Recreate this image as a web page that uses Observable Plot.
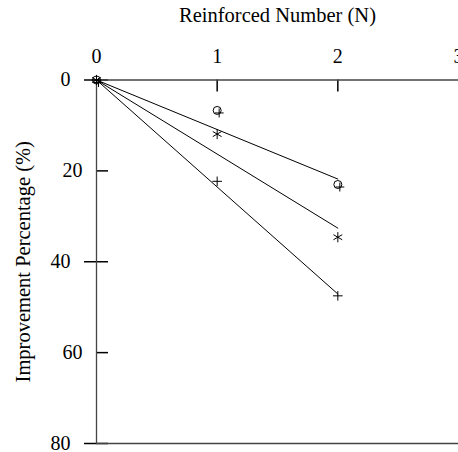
<!DOCTYPE html>
<html>
<head>
<meta charset="utf-8">
<script src="https://cdn.jsdelivr.net/npm/d3@7"></script>
<script src="https://cdn.jsdelivr.net/npm/@observablehq/plot@0.6"></script>
<style>
  html, body { margin: 0; padding: 0; background: #fff; }
  #chart svg { display: block; font-family: 'Liberation Serif', 'Times New Roman', serif; background: #fff; }
</style>
</head>
<body>
<div id="chart"></div>
<script>
// Reinforced number (x)
const reinforced = [0, 1, 2];
// Measured improvement percentages (markers)
const seriesCircle = [0, 6.7, 23.0];
const seriesAsterisk = [0, 11.9, 34.6];
const seriesPlus = [0, 22.3, 47.5];
// Fitted lines (endpoints at N = 0 and N = 2)
const fitN = [0, 2];
const fitCircle = [0, 21.8];
const fitAsterisk = [0, 32.6];
const fitPlus = [0, 47.1];
// Tick labels
const xTicks = [0, 1, 2, 3];
const xTicksInner = [1, 2];
const yTicksMajor = [0, 40, 80];
const yTicksMinor = [20, 60];
const yTicksAll = [0, 20, 40, 60, 80];

const pts = (ys) => reinforced.map((n, i) => ({n, v: ys[i]}));
const fit = (ys) => fitN.map((n, i) => ({n, v: ys[i]}));

const axisColor = "#444";
const W = 458, H = 452, mT = 79.5, mB = 9, mL = 96, mR = 0;
const frameW = W - mL - mR, frameH = H - mT - mB, tickLen = 12;

let chart;
try {
chart = Plot.plot({
  width: W,
  height: H,
  marginTop: mT,
  marginBottom: mB,
  marginLeft: mL,
  marginRight: mR,
  x: {domain: [0, 3], axis: null},
  y: {domain: [0, 80], reverse: true, axis: null},
  marks: [
    // y ticks: inward
    Plot.tickY(yTicksAll, {y: d => d, insetRight: frameW - tickLen, stroke: "black", strokeWidth: 1.5}),
    // y ticks: outward (major)
    Plot.tickY(yTicksMajor, {y: d => d, dx: -tickLen, insetRight: frameW - tickLen, stroke: "black", strokeWidth: 1.5}),
    // x ticks inward
    Plot.tickX(xTicksInner, {x: d => d, insetBottom: frameH - tickLen, stroke: "black", strokeWidth: 1.5}),
    // axis lines
    Plot.ruleY([0, 80], {stroke: axisColor, strokeWidth: 1.3}),
    Plot.ruleX([0], {stroke: axisColor, strokeWidth: 1.3}),
    // y labels
    Plot.text(yTicksMinor, {y: d => d, frameAnchor: "left", dx: -14, textAnchor: "end", lineAnchor: "middle", text: d => String(d), fontSize: 20, fill: "#000"}),
    Plot.text(yTicksMajor, {y: d => d, frameAnchor: "left", dx: -26, textAnchor: "end", lineAnchor: "middle", text: d => String(d), fontSize: 20, fill: "#000"}),
    // x labels
    Plot.text(xTicks, {x: d => d, frameAnchor: "top", dy: -17, textAnchor: "middle", lineAnchor: "bottom", text: d => String(d), fontSize: 20, fill: "#000"}),
    // fitted lines
    Plot.line(fit(fitCircle), {x: "n", y: "v", stroke: "#000", strokeWidth: 1}),
    Plot.line(fit(fitAsterisk), {x: "n", y: "v", stroke: "#000", strokeWidth: 1}),
    Plot.line(fit(fitPlus), {x: "n", y: "v", stroke: "#000", strokeWidth: 1}),
    // markers
    Plot.dot(pts(seriesCircle), {x: "n", y: "v", symbol: "circle", r: 4, stroke: "#000", strokeWidth: 1}),
    Plot.dot(pts(seriesCircle), {x: "n", y: "v", symbol: "plus", r: 3, dx: 2, dy: 2.5, stroke: "#000", strokeWidth: 1}),
    Plot.dot(pts(seriesAsterisk), {x: "n", y: "v", symbol: "asterisk", r: 4.8, stroke: "#000", strokeWidth: 1}),
    Plot.dot(pts(seriesPlus), {x: "n", y: "v", symbol: "plus", r: 3.2, stroke: "#000", strokeWidth: 1}),
    // axis titles
    Plot.text(["Reinforced Number (N)"], {frameAnchor: "top", dy: -64.5, textAnchor: "middle", lineAnchor: "middle", fontSize: 20.5, fill: "#000"}),
    Plot.text(["Improvement Percentage (%)"], {frameAnchor: "left", dx: -73, rotate: -90, textAnchor: "middle", lineAnchor: "middle", fontSize: 20.5, fill: "#000"})
  ]
});
} catch (e) { document.body.append(String(e)); }
if (chart) document.getElementById("chart").appendChild(chart);
</script>
</body>
</html>
